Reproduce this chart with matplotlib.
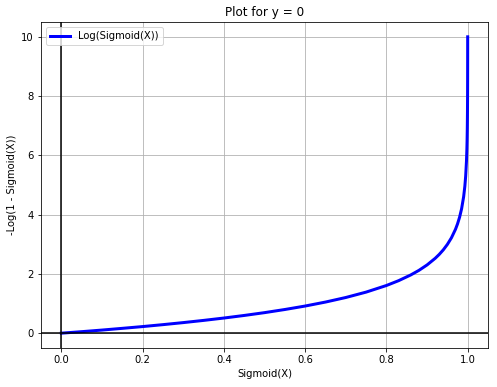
import matplotlib
matplotlib.use("Agg")
from matplotlib import pyplot as plt

# points
sig_x = [0.0, 0.05, 0.1, 0.15, 0.2, 0.25, 0.3, 0.35, 0.4, 0.45, 0.5, 0.55,
         0.6, 0.65, 0.7, 0.75, 0.8, 0.83, 0.86, 0.88, 0.9, 0.92, 0.93, 0.94,
         0.95, 0.96, 0.97, 0.975, 0.98, 0.985, 0.99, 0.993, 0.995, 0.997,
         0.998, 0.9985, 0.999, 0.9993, 0.9995, 0.9997, 0.9998, 0.9999,
         0.99993, 0.99995]
loss_y = [0.0, 0.051, 0.105, 0.163, 0.223, 0.288, 0.357, 0.431, 0.511, 0.598,
          0.693, 0.799, 0.916, 1.05, 1.204, 1.386, 1.609, 1.772, 1.966, 2.120,
          2.303, 2.526, 2.659, 2.813, 2.996, 3.219, 3.507, 3.689, 3.912, 4.200,
          4.605, 4.962, 5.298, 5.809, 6.215, 6.502, 6.908, 7.264, 7.601, 8.112,
          8.517, 9.210, 9.567, 10.0]

fig = plt.figure(figsize=(497 / 72, 387 / 72), dpi=72)
ax = fig.add_axes([41 / 497, 1 - 348 / 387, 447 / 497, 326 / 387])
ax.plot(sig_x, loss_y, color='blue', linewidth=3, label='Log(Sigmoid(X))')
ax.axhline(0, color='black')
ax.axvline(0, color='black')
ax.grid(True)
ax.set_title('Plot for y = 0')
ax.set_xlabel('Sigmoid(X)')
ax.set_ylabel('-Log(1 - Sigmoid(X))')
ax.legend(loc='upper left')

fig.savefig('out.png', dpi=72)
